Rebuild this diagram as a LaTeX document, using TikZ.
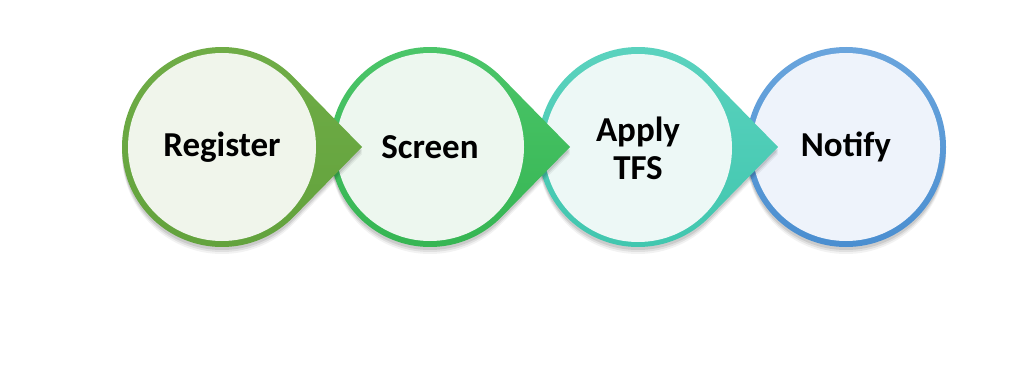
\documentclass[tikz,border=0pt]{standalone}
\usepackage{fontspec}
\setmainfont{Carlito}
\usetikzlibrary{calc}
\begin{document}
\begin{tikzpicture}[x=1pt,y=1pt,
  stagetext/.style={circle, minimum size=188pt, inner sep=0pt, align=center,
    font=\fontsize{35}{38}\selectfont\bfseries, text=black},
]
\useasboundingbox[fill=white] (0,0) rectangle (1024,365);
\definecolor{ringA}{HTML}{70AD47}\definecolor{ringAd}{HTML}{62A23C}
\definecolor{ringB}{HTML}{4CC66A}\definecolor{ringBd}{HTML}{35B552}
\definecolor{ringC}{HTML}{5CD3BF}\definecolor{ringCd}{HTML}{40C6AE}
\definecolor{ringD}{HTML}{6AA5DD}\definecolor{ringDd}{HTML}{4A8ED0}
\definecolor{fillA}{HTML}{F0F5EB}\definecolor{fillB}{HTML}{EDF7EF}
\definecolor{fillC}{HTML}{EDF8F6}\definecolor{fillD}{HTML}{EEF3FB}
% teardrop: #1 centre x, #2 top colour, #3 bottom colour
\newcommand{\mytear}[3]{%
  \foreach \s/\o in {7/0.05,5/0.07,3/0.09}{
    \fill[black,opacity=\o] (#1+140,218-\s) -- ($(#1,218-\s)+(44.4:100)$) arc[start angle=44.4,end angle=315.6,radius=100] -- cycle;
  }
  \shade[top color=#2,bottom color=#3] (#1+140,218) -- ($(#1,218)+(44.4:100)$) arc[start angle=44.4,end angle=315.6,radius=100] -- cycle;
}
\newcommand{\mycirc}[3]{%
  \foreach \s/\o in {7/0.05,5/0.07,3/0.09}{
    \fill[black,opacity=\o] (#1,218-\s) circle[radius=100];
  }
  \shade[top color=#2,bottom color=#3] (#1,218) circle[radius=100];
}
% stage 4
\mycirc{846}{ringD}{ringDd}
\node[stagetext, fill=fillD] (notify) at (846,218) {Notify};
% stage 3
\mytear{638}{ringC}{ringCd}
\node[stagetext, fill=fillC] (apply) at (638,217) {Apply\\TFS};
% stage 2
\mytear{430}{ringB}{ringBd}
\node[stagetext, fill=fillB] (screen) at (430,218) {Screen};
% stage 1
\mytear{222}{ringA}{ringAd}
\node[stagetext, fill=fillA] (register) at (222,218) {Register};
\end{tikzpicture}
\end{document}
